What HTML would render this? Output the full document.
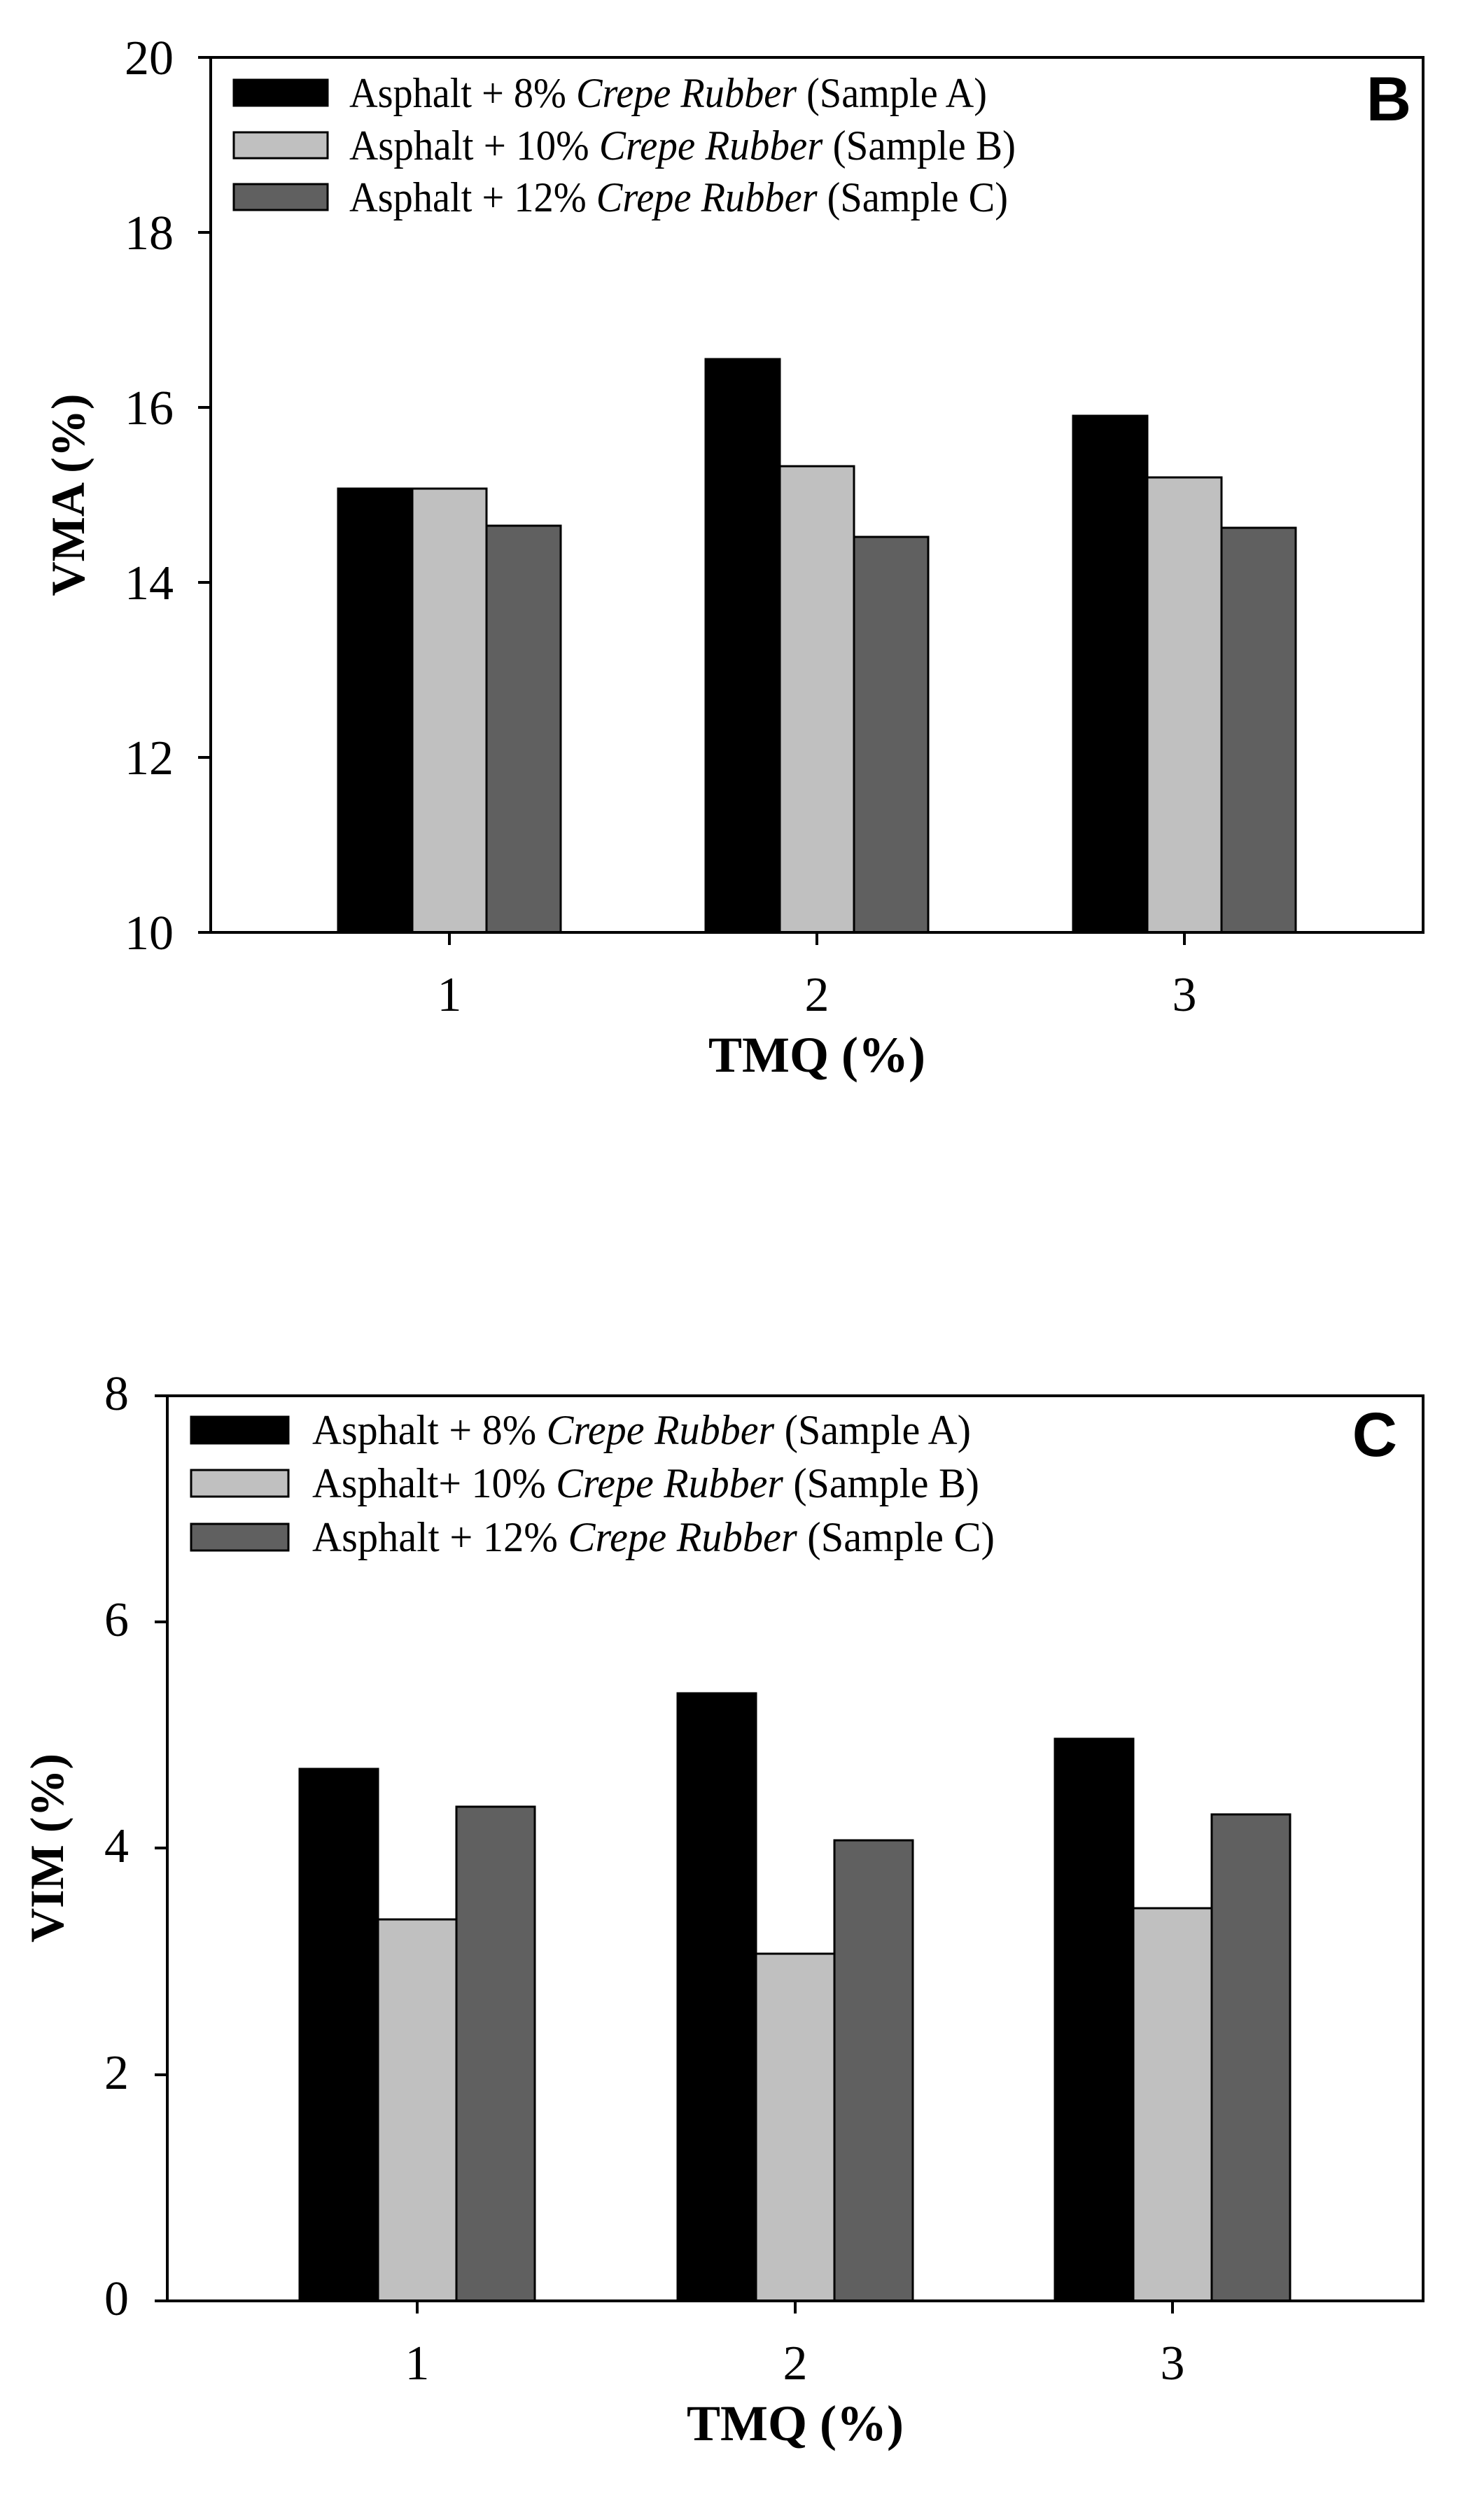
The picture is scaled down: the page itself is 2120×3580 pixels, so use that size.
<!DOCTYPE html>
<html><head><meta charset="utf-8"><style>
html,body{margin:0;padding:0;background:#fff}
svg{display:block}
text{font-family:"Liberation Serif",serif;fill:#000}
</style></head><body>
<svg width="2120" height="3580" viewBox="0 0 2120 3580" xmlns="http://www.w3.org/2000/svg">
<rect width="2120" height="3580" fill="#fff"/>
<!-- ===== Chart B ===== -->
<g>
<g stroke="#000" stroke-width="3">
<rect x="483" y="698" width="106" height="634" fill="#000"/>
<rect x="589" y="698" width="106" height="634" fill="#c0c0c0"/>
<rect x="695" y="751" width="106" height="581" fill="#606060"/>
<rect x="1008" y="513" width="106" height="819" fill="#000"/>
<rect x="1114" y="666" width="106" height="666" fill="#c0c0c0"/>
<rect x="1220" y="767" width="106" height="565" fill="#606060"/>
<rect x="1533" y="594" width="106" height="738" fill="#000"/>
<rect x="1639" y="682" width="106" height="650" fill="#c0c0c0"/>
<rect x="1745" y="754" width="106" height="578" fill="#606060"/>
</g>
<rect x="301" y="82" width="1732" height="1250" fill="none" stroke="#000" stroke-width="4"/>
<g stroke="#000" stroke-width="4">
<line x1="283" y1="82" x2="301" y2="82"/><line x1="283" y1="332" x2="301" y2="332"/>
<line x1="283" y1="582" x2="301" y2="582"/><line x1="283" y1="832" x2="301" y2="832"/>
<line x1="283" y1="1082" x2="301" y2="1082"/><line x1="283" y1="1332" x2="301" y2="1332"/>
<line x1="642" y1="1332" x2="642" y2="1350"/><line x1="1167" y1="1332" x2="1167" y2="1350"/>
<line x1="1692" y1="1332" x2="1692" y2="1350"/>
</g>
<g font-size="70" text-anchor="end">
<text x="248" y="106">20</text><text x="248" y="356">18</text><text x="248" y="606">16</text>
<text x="248" y="856">14</text><text x="248" y="1106">12</text><text x="248" y="1356">10</text>
</g>
<g font-size="70" text-anchor="middle">
<text x="642" y="1444">1</text><text x="1167" y="1444">2</text><text x="1692" y="1444">3</text>
</g>
<text x="1167" y="1531" font-size="72" font-weight="bold" text-anchor="middle">TMQ (%)</text>
<text transform="translate(120,707) rotate(-90)" font-size="68" font-weight="bold" text-anchor="middle">VMA (%)</text>
<g stroke="#000" stroke-width="3">
<rect x="334" y="114" width="134" height="37" fill="#000"/>
<rect x="334" y="189" width="134" height="37" fill="#c0c0c0"/>
<rect x="334" y="263" width="134" height="37" fill="#606060"/>
</g>
<g font-size="60">
<text x="499" y="153" textLength="911" lengthAdjust="spacingAndGlyphs">Asphalt + 8% <tspan font-style="italic">Crepe Rubber</tspan> (Sample A)</text>
<text x="499" y="228" textLength="952" lengthAdjust="spacingAndGlyphs">Asphalt  + 10% <tspan font-style="italic">Crepe Rubber</tspan> (Sample B)</text>
<text x="499" y="302" textLength="941" lengthAdjust="spacingAndGlyphs">Asphalt + 12% <tspan font-style="italic">Crepe Rubber</tspan> (Sample C)</text>
</g>
<text x="2016" y="172" font-weight="bold" font-size="89" text-anchor="end" style="font-family:'Liberation Sans',sans-serif">B</text>
</g>
<!-- ===== Chart C ===== -->
<g>
<g stroke="#000" stroke-width="3">
<rect x="428" y="2527" width="112" height="760" fill="#000"/>
<rect x="540" y="2742" width="112" height="545" fill="#c0c0c0"/>
<rect x="652" y="2581" width="112" height="706" fill="#606060"/>
<rect x="968" y="2419" width="112" height="868" fill="#000"/>
<rect x="1080" y="2791" width="112" height="496" fill="#c0c0c0"/>
<rect x="1192" y="2629" width="112" height="658" fill="#606060"/>
<rect x="1507" y="2484" width="112" height="803" fill="#000"/>
<rect x="1619" y="2726" width="112" height="561" fill="#c0c0c0"/>
<rect x="1731" y="2592" width="112" height="695" fill="#606060"/>
</g>
<rect x="239" y="1994" width="1794" height="1293" fill="none" stroke="#000" stroke-width="4"/>
<g stroke="#000" stroke-width="4">
<line x1="221" y1="1994" x2="239" y2="1994"/><line x1="221" y1="2317" x2="239" y2="2317"/>
<line x1="221" y1="2640" x2="239" y2="2640"/><line x1="221" y1="2964" x2="239" y2="2964"/>
<line x1="221" y1="3287" x2="239" y2="3287"/>
<line x1="596" y1="3287" x2="596" y2="3305"/><line x1="1136" y1="3287" x2="1136" y2="3305"/>
<line x1="1675" y1="3287" x2="1675" y2="3305"/>
</g>
<g font-size="70" text-anchor="end">
<text x="184" y="2014">8</text><text x="184" y="2337">6</text><text x="184" y="2660">4</text>
<text x="184" y="2984">2</text><text x="184" y="3307">0</text>
</g>
<g font-size="70" text-anchor="middle">
<text x="596" y="3399">1</text><text x="1136" y="3399">2</text><text x="1675" y="3399">3</text>
</g>
<text x="1136" y="3486" font-size="72" font-weight="bold" text-anchor="middle">TMQ (%)</text>
<text transform="translate(90,2640) rotate(-90)" font-size="68" font-weight="bold" text-anchor="middle">VIM (%)</text>
<g stroke="#000" stroke-width="3">
<rect x="273" y="2024" width="139" height="38" fill="#000"/>
<rect x="273" y="2100" width="139" height="38" fill="#c0c0c0"/>
<rect x="273" y="2177" width="139" height="38" fill="#606060"/>
</g>
<g font-size="60">
<text x="446" y="2063" textLength="941" lengthAdjust="spacingAndGlyphs">Asphalt + 8% <tspan font-style="italic">Crepe Rubber</tspan> (Sample A)</text>
<text x="446" y="2139" textLength="953" lengthAdjust="spacingAndGlyphs">Asphalt+ 10% <tspan font-style="italic">Crepe Rubber</tspan> (Sample B)</text>
<text x="446" y="2216" textLength="975" lengthAdjust="spacingAndGlyphs">Asphalt + 12% <tspan font-style="italic">Crepe Rubber</tspan> (Sample C)</text>
</g>
<text x="1996" y="2080" font-weight="bold" font-size="89" text-anchor="end" style="font-family:'Liberation Sans',sans-serif">C</text>
</g>
</svg>
</body></html>
